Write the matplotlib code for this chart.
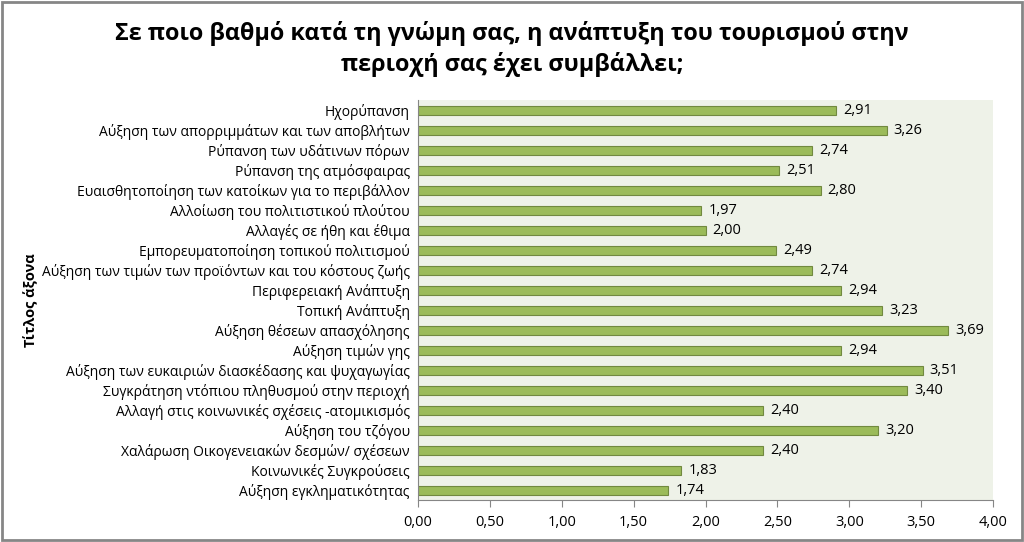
import matplotlib.pyplot as plt
from matplotlib.patches import Rectangle

plt.rcParams['font.family'] = ['Open Sans', 'DejaVu Sans']

# Κατηγορίες (από πάνω προς τα κάτω) και μέσες τιμές
categories = [
    'Ηχορύπανση',
    'Αύξηση των απορριμμάτων και των αποβλήτων',
    'Ρύπανση των υδάτινων πόρων',
    'Ρύπανση της ατμόσφαιρας',
    'Ευαισθητοποίηση των κατοίκων για το περιβάλλον',
    'Αλλοίωση του πολιτιστικού πλούτου',
    'Αλλαγές σε ήθη και έθιμα',
    'Εμπορευματοποίηση τοπικού πολιτισμού',
    'Αύξηση των τιμών των προϊόντων και του κόστους ζωής',
    'Περιφερειακή Ανάπτυξη',
    'Τοπική Ανάπτυξη',
    'Αύξηση θέσεων απασχόλησης',
    'Αύξηση τιμών γης',
    'Αύξηση των ευκαιριών διασκέδασης και ψυχαγωγίας',
    'Συγκράτηση ντόπιου πληθυσμού στην περιοχή',
    'Αλλαγή στις κοινωνικές σχέσεις -ατομικισμός',
    'Αύξηση του τζόγου',
    'Χαλάρωση Οικογενειακών δεσμών/ σχέσεων',
    'Κοινωνικές Συγκρούσεις',
    'Αύξηση εγκληματικότητας',
]
values = [2.91, 3.26, 2.74, 2.51, 2.80, 1.97, 2.00, 2.49, 2.74, 2.94,
          3.23, 3.69, 2.94, 3.51, 3.40, 2.40, 3.20, 2.40, 1.83, 1.74]
xticks = [0, 0.5, 1, 1.5, 2, 2.5, 3, 3.5, 4]

fig = plt.figure(figsize=(10.24, 5.42), dpi=100)
fig.patches.append(Rectangle((0.002, 0.003), 0.996, 0.994, transform=fig.transFigure,
                             fill=False, edgecolor='#868686', linewidth=2))

ax = fig.add_axes([418 / 1024, 1 - 500 / 542, (993 - 418) / 1024, 400 / 542])
ax.set_facecolor('#EEF2E8')

y = list(range(len(categories)))
ax.barh(y, values, height=0.45, color='#9BBB59', edgecolor='#71893F', linewidth=0.8)
for yi, v in zip(y, values):
    ax.text(v + 0.05, yi, f'{v:.2f}'.replace('.', ','), va='center', ha='left',
            fontsize=10.5, color='black')

ax.set_ylim(len(categories) - 0.5, -0.5)
ax.set_xlim(0, 4)
ax.set_yticks(y)
ax.set_yticklabels(categories, fontsize=10)
ax.set_xticks(xticks)
ax.set_xticklabels([f'{t:.2f}'.replace('.', ',') for t in xticks], fontsize=10.5)
ax.tick_params(axis='y', length=0, pad=6)
ax.tick_params(axis='x', length=5, color='#868686', direction='out', pad=6)

for side in ['top', 'right']:
    ax.spines[side].set_visible(False)
ax.spines['left'].set_color('#868686')
ax.spines['bottom'].set_color('#868686')

ax.set_ylabel('Τίτλος άξονα', fontsize=10.5, fontweight='bold')
ax.yaxis.set_label_coords(-0.66, 0.5)

fig.suptitle('Σε ποιο βαθμό κατά τη γνώμη σας, η ανάπτυξη του τουρισμού στην\nπεριοχή σας έχει συμβάλλει;',
             fontsize=16.8, fontweight='bold', y=0.962, linespacing=1.35)

fig.savefig('out.png', dpi=100)
